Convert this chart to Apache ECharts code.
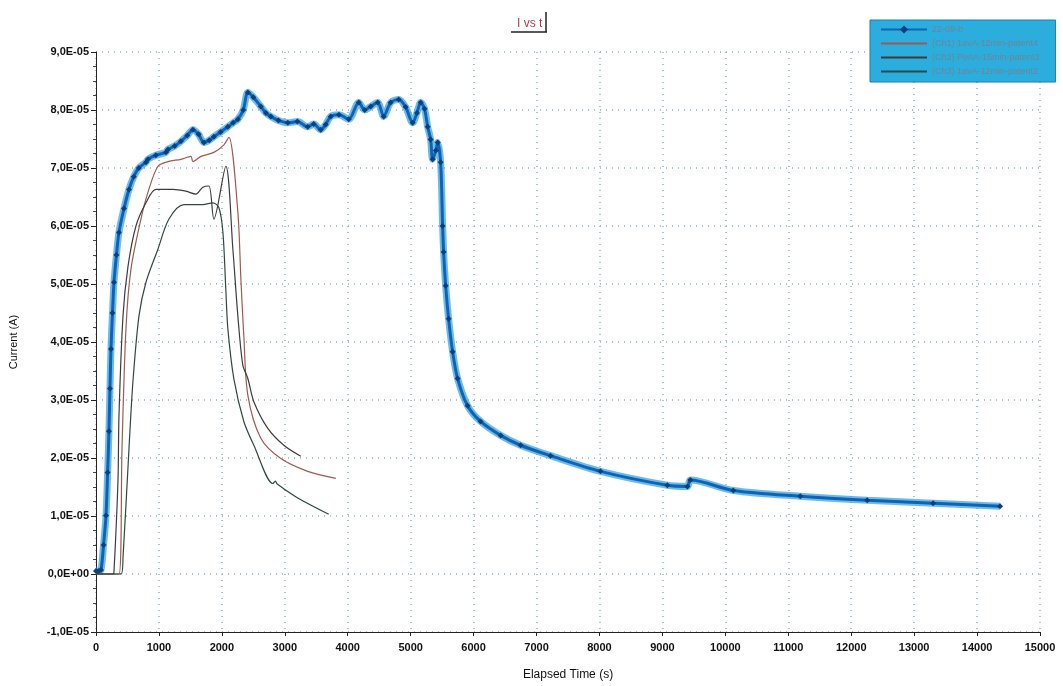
<!DOCTYPE html>
<html><head><meta charset="utf-8">
<script src="https://cdn.jsdelivr.net/npm/echarts@6/dist/echarts.min.js"></script>
<style>html,body{margin:0;padding:0;background:#fff}#c{width:1063px;height:686px}</style>
</head><body><div id="c"></div>
<script>
// Values: time in s, current in units of 1E-05 A
var seriesNames = ['22-09-b', '(Ch1) 1avA-12min-patent4', '(Ch2) PenA-15min-patent3', '(Ch3) 1avA-12min-patent2'];
var blueT = [0, 40, 79, 120, 159, 185, 206, 222, 238, 262, 286, 325, 365, 445, 524, 600, 680, 794, 825, 950, 1111, 1143, 1250, 1349, 1450, 1540, 1630, 1714, 1800, 1873, 1980, 2095, 2180, 2254, 2340, 2413, 2500, 2619, 2700, 2778, 2900, 3048, 3200, 3365, 3460, 3571, 3650, 3730, 3860, 4016, 4175, 4270, 4365, 4476, 4571, 4683, 4810, 4920, 5032, 5100, 5159, 5220, 5270, 5317, 5349, 5400, 5429, 5476, 5508, 5524, 5556, 5603, 5667, 5746, 5905, 6111, 6429, 6746, 7222, 8016, 9079, 9397, 9444, 10127, 11190, 12254, 13302, 14365];
var blueI = [0.05, 0.05, 0.07, 0.5, 1.01, 1.75, 2.46, 3.2, 3.88, 4.5, 5.03, 5.5, 5.89, 6.3, 6.63, 6.85, 7.0, 7.10, 7.15, 7.22, 7.27, 7.32, 7.38, 7.46, 7.56, 7.66, 7.58, 7.44, 7.48, 7.54, 7.62, 7.71, 7.78, 7.84, 8.0, 8.30, 8.22, 8.06, 7.95, 7.89, 7.82, 7.78, 7.80, 7.71, 7.76, 7.66, 7.75, 7.89, 7.92, 7.84, 8.13, 8.00, 8.06, 8.13, 7.89, 8.13, 8.18, 8.05, 7.78, 7.95, 8.13, 8.02, 7.71, 7.49, 7.15, 7.30, 7.44, 7.10, 6.00, 5.55, 4.97, 4.40, 3.83, 3.37, 2.90, 2.63, 2.39, 2.22, 2.04, 1.77, 1.53, 1.51, 1.62, 1.44, 1.34, 1.27, 1.22, 1.17];
var redT = [0, 365, 413, 476, 556, 714, 825, 984, 1143, 1349, 1508, 1540, 1667, 1873, 2032, 2111, 2254, 2302, 2349, 2413, 2619, 2937, 3365, 3810];
var redI = [0, 0, 2.16, 4.23, 5.26, 6.12, 6.58, 7.03, 7.11, 7.15, 7.2, 7.11, 7.2, 7.27, 7.4, 7.53, 6.24, 5.09, 4.1, 3.08, 2.34, 1.99, 1.77, 1.65];
var greyT = [0, 270, 286, 349, 365, 429, 508, 635, 794, 952, 1222, 1429, 1587, 1698, 1794, 1873, 2063, 2175, 2254, 2333, 2413, 2508, 2730, 2984, 3254];
var greyI = [0, 0, 0.05, 1.6, 2.73, 4.45, 5.3, 6.0, 6.4, 6.63, 6.63, 6.6, 6.55, 6.67, 6.69, 6.12, 7.03, 5.6, 4.45, 3.6, 3.37, 2.97, 2.51, 2.22, 2.03];
var greenT = [0, 400, 430, 524, 587, 683, 794, 984, 1159, 1397, 1698, 1857, 1952, 2016, 2063, 2095, 2190, 2349, 2508, 2810, 2850, 2880, 3206, 3698];
var greenI = [0, 0, 0.3, 2.16, 3.32, 4.45, 5.03, 5.6, 6.12, 6.37, 6.37, 6.4, 6.32, 5.9, 4.9, 4.23, 3.37, 2.63, 2.22, 1.56, 1.6, 1.55, 1.31, 1.03];
var yTicks = [-1, 0, 1, 2, 3, 4, 5, 6, 7, 8, 9];

function zip(t, v) { return t.map(function (x, i) { return [x, v[i]]; }); }
function fmtY(v) {
  var r = Math.round(v * 10) / 10;
  if (r === 0) return '0,0E+00';
  return (r < 0 ? '-' : '') + Math.abs(r).toFixed(1).replace('.', ',') + 'E-05';
}
var FONT = 'Liberation Sans, Arial, sans-serif';

var chart = echarts.init(document.getElementById('c'), null, { renderer: 'canvas' });
var gridColor = '#8fb3c2';
chart.setOption({
  backgroundColor: '#ffffff',
  animation: false,
  title: {
    text: 'I vs t', left: 512, top: 13,
    textStyle: { color: '#a8404f', fontSize: 12, fontWeight: 'normal', fontFamily: FONT }
  },
  graphic: [
    { type: 'line', shape: { x1: 511, y1: 32, x2: 547, y2: 32 }, style: { stroke: '#222', lineWidth: 1.5 } },
    { type: 'line', shape: { x1: 546, y1: 12, x2: 546, y2: 32 }, style: { stroke: '#222', lineWidth: 1.5 } }
  ],
  legend: {
    data: seriesNames.map(function (n, i) {
      return i === 0 ? { name: n } : { name: n, itemStyle: { opacity: 0 } };
    }),
    orient: 'vertical',
    left: 870, top: 20,
    padding: [5, 16, 6, 10],
    itemGap: 5,
    itemWidth: 46, itemHeight: 10,
    backgroundColor: '#2badde',
    borderColor: '#1b7eaa', borderWidth: 1,
    textStyle: { color: '#6f8595', fontSize: 9, fontFamily: FONT }
  },
  grid: { left: 95, right: 23, top: 52, bottom: 52, containLabel: false },
  xAxis: {
    type: 'value', min: 0, max: 15000, interval: 1000,
    name: 'Elapsed Time (s)', nameLocation: 'middle', nameGap: 37,
    nameTextStyle: { color: '#111', fontSize: 12, fontFamily: FONT },
    axisLine: { onZero: false, lineStyle: { color: '#222', width: 1 } },
    axisTick: { show: true, length: 4, lineStyle: { color: '#222' } },
    axisLabel: { color: '#111', fontSize: 11, fontWeight: 'bold', margin: 10, fontFamily: FONT,
      formatter: function (v) { return String(v); } },
    splitLine: { show: true, lineStyle: { color: gridColor, type: [1, 5], width: 1.5 } }
  },
  yAxis: {
    type: 'value', min: yTicks[0], max: yTicks[yTicks.length - 1], interval: 1,
    name: 'Current (A)', nameLocation: 'middle', nameGap: 77, nameRotate: 90,
    nameTextStyle: { color: '#111', fontSize: 11, fontFamily: FONT },
    axisLine: { show: true, lineStyle: { color: '#222', width: 1 } },
    axisTick: { show: true, length: 5, inside: false, lineStyle: { color: '#222' } },
    minorTick: { show: true, splitNumber: 4, length: 3, lineStyle: { color: '#444' } },
    axisLabel: { color: '#111', fontSize: 11, fontWeight: 'bold', margin: 7, formatter: fmtY, fontFamily: FONT },
    splitLine: { show: true, lineStyle: { color: gridColor, type: [1, 5], width: 1.5 } }
  },
  series: [
    { name: '_halo', type: 'line', data: zip(blueT, blueI), symbol: 'none', silent: true, z: 2, smooth: 0.3,
      lineStyle: { color: '#3aa6e6', width: 7, opacity: 0.75 } },
    { name: seriesNames[0], type: 'line', data: zip(blueT, blueI), symbol: 'diamond', symbolSize: 6, z: 4, smooth: 0.3,
      itemStyle: { color: '#0c3f7d' }, lineStyle: { color: '#1062b2', width: 3 } },
    { name: seriesNames[1], type: 'line', data: zip(redT, redI), symbol: 'none', z: 3, smooth: 0.3,
      itemStyle: { color: '#9c5a50' }, lineStyle: { color: '#9c5a50', width: 1.2 } },
    { name: seriesNames[2], type: 'line', data: zip(greyT, greyI), symbol: 'none', z: 3, smooth: 0.3,
      itemStyle: { color: '#3c3c3c' }, lineStyle: { color: '#3c3c3c', width: 1.2 } },
    { name: seriesNames[3], type: 'line', data: zip(greenT, greenI), symbol: 'none', z: 3, smooth: 0.3,
      itemStyle: { color: '#30493c' }, lineStyle: { color: '#30493c', width: 1.2 } }
  ]
});
</script></body></html>
